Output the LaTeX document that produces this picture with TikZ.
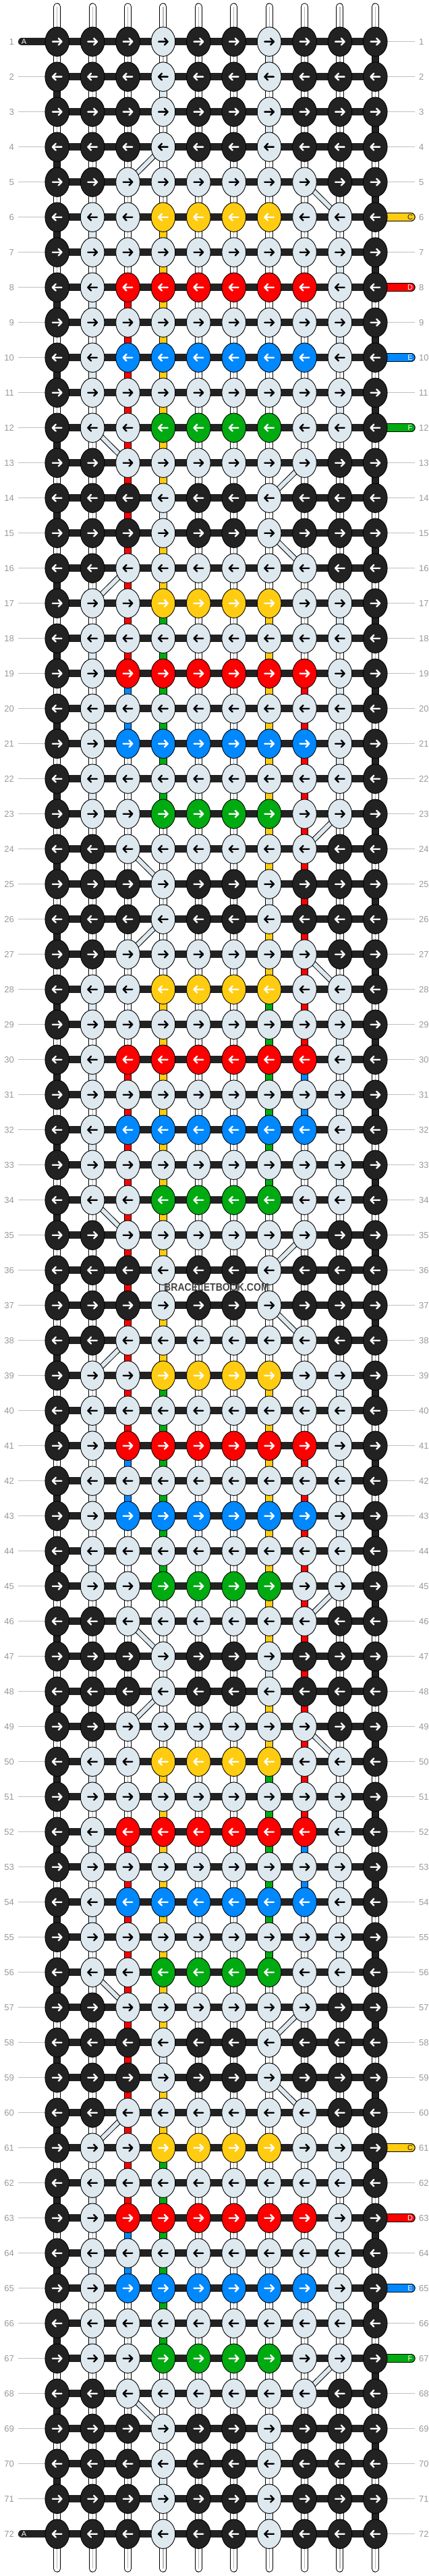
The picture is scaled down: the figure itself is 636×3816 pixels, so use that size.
\documentclass[tikz,border=0pt]{standalone}
\usepackage{fontspec}
\setmainfont{Liberation Sans}
\usetikzlibrary{shapes.geometric}
\definecolor{cK}{HTML}{222222}
\definecolor{cL}{HTML}{DEE8EF}
\definecolor{cY}{HTML}{FFCC11}
\definecolor{cR}{HTML}{FF0000}
\definecolor{cB}{HTML}{0088FF}
\definecolor{cG}{HTML}{00AA11}
\definecolor{lbl}{HTML}{999999}
\definecolor{lline}{HTML}{C0C0C0}
\definecolor{wmk}{HTML}{444444}
\def\rowT{K,K,K,L,K,K,L,K,K,K}
\def\rowN{K,K,L,L,L,L,L,L,K,K}
\def\rowY{K,L,L,Y,Y,Y,Y,L,L,K}
\def\rowI{K,L,L,L,L,L,L,L,L,K}
\def\rowR{K,L,R,R,R,R,R,R,L,K}
\def\rowB{K,L,B,B,B,B,B,B,L,K}
\def\rowG{K,L,L,G,G,G,G,L,L,K}
\def\rowseq{T,T,T,T,N,Y,I,R,I,B,I,G,N,T,T,N,Y,I,R,I,B,I,G,N,T,T,N,Y,I,R,I,B,I,G,N,T,T,N,Y,I,R,I,B,I,G,N,T,T,N,Y,I,R,I,B,I,G,N,T,T,N,Y,I,R,I,B,I,G,N,T,T,T,T}
\newcommand\kseg[3]{%
  \pgfmathtruncatemacro\gn{#1+1}%
  \draw[line width=11.5, black] (p-#1-#2) -- (p-\gn-#2);%
  \draw[line width=9.5, #3] (p-#1-#2) -- (p-\gn-#2);%
}
\newcommand\wseg[2]{%
  \pgfmathtruncatemacro\gn{#1+1}%
  \draw[line width=11.5, black] (p-#1-#2) -- (p-\gn-#2);%
  \draw[line width=9.5, white] (p-#1-#2) -- (p-\gn-#2);%
  \draw[line width=1.2, black!28] (p-#1-#2) -- (p-\gn-#2);%
}
\tikzset{
  knot/.style={ellipse, draw=black, line width=0.9, minimum width=35.6, minimum height=43.4, inner sep=0},
  lab/.style={text=lbl, font=\fontsize{13}{13}\selectfont, inner sep=0},
  tailtxt/.style={font=\fontsize{11}{11}\selectfont, inner sep=0},
  arR/.pic={\draw[color=#1, line width=2.4, line cap=round, line join=round] (-6.8,0) -- (6.8,0) (2,-4.9) -- (6.8,0) -- (2,4.9);},
  arL/.pic={\draw[color=#1, line width=2.4, line cap=round, line join=round] (6.8,0) -- (-6.8,0) (-2,-4.9) -- (-6.8,0) -- (-2,4.9);},
}
\begin{document}
\begin{tikzpicture}[x=1pt,y=-1pt]
\useasboundingbox (0,0) rectangle (636,3816);
\fill[white] (0,0) rectangle (636,3816);
% grid coordinates
\foreach \rr in {1,...,72}{
  \foreach \kc in {1,...,10}{
    \coordinate (p-\rr-\kc) at ({84.7+(\kc-1)*52.4},{61.7+(\rr-1)*52});
  }
  \coordinate (ll-\rr) at (26.5,{61.7+(\rr-1)*52});
  \coordinate (rl-\rr) at (615,{61.7+(\rr-1)*52});
  \coordinate (ta-\rr) at (32.5,{61.7+(\rr-1)*52});
  \coordinate (tr-\rr) at (609.5,{61.7+(\rr-1)*52});
}
% label lines
\foreach \rr in {1,...,72}{
  \draw[lline, line width=1] (ll-\rr) -- (p-\rr-1);
  \draw[lline, line width=1] (p-\rr-10) -- (rl-\rr);
}
% left tails A
\foreach \rr in {1,72}{
  \draw[line width=11.5, cK, line cap=round] (ta-\rr) -- (p-\rr-1);
}
% right tails
\foreach \rr/\tc in {6/cY,8/cR,10/cB,12/cG,61/cY,63/cR,65/cB,67/cG}{
  \draw[line width=12.5, black, line cap=round] (p-\rr-10) -- (tr-\rr);
  \draw[line width=10.5, \tc, line cap=round] (p-\rr-10) -- (tr-\rr);
}
% top and bottom strands
\foreach \kc in {1,...,10}{
  \coordinate (t-\kc) at ({84.7+(\kc-1)*52.4},10);
  \coordinate (b-\kc) at ({84.7+(\kc-1)*52.4},3805);
  \draw[line width=11, black, line cap=round] (t-\kc) -- (p-1-\kc);
  \draw[line width=9, white, line cap=round] (t-\kc) -- (p-1-\kc);
  \draw[line width=1.2, black!28] (t-\kc) -- (p-1-\kc);
  \draw[line width=11, black, line cap=round] (b-\kc) -- (p-72-\kc);
  \draw[line width=9, white, line cap=round] (b-\kc) -- (p-72-\kc);
  \draw[line width=1.2, black!28] (b-\kc) -- (p-72-\kc);
}
% horizontal bars
\foreach \rr in {1,...,72}{
  \draw[cK, line width=11.5] (p-\rr-1) -- (p-\rr-10);
}
% vertical segments, default
\foreach \g in {1,...,71}{
  \foreach \kc in {1,...,10}{\wseg{\g}{\kc}}
  \ifodd\g\relax \kseg{\g}{10}{cK}\else \kseg{\g}{1}{cK}\fi
}
% light turns
\foreach \g/\kc in {1/7,2/4,3/7,14/4,25/7,36/4,47/7,58/4,69/7,70/4,71/7,
  6/2,7/9,8/2,9/9,10/2,11/9,17/9,18/2,19/9,20/2,21/9,22/2,
  28/2,29/9,30/2,31/9,32/2,33/9,39/9,40/2,41/9,42/2,43/9,44/2,
  50/2,51/9,52/2,53/9,54/2,55/9,61/9,62/2,63/9,64/2,65/9,66/2}{\kseg{\g}{\kc}{cL}}
% coloured strands
\foreach \a/\b in {6/13,15/16,28/35,37/38,50/57,59/60}{\foreach \g in {\a,...,\b}{\kseg{\g}{4}{cY}}}
\foreach \a/\b in {17/24,26/27,39/46,48/49}{\foreach \g in {\a,...,\b}{\kseg{\g}{7}{cY}}}
\foreach \a/\b in {8/18,30/40,52/62}{\foreach \g in {\a,...,\b}{\kseg{\g}{3}{cR}}}
\foreach \a/\b in {19/29,41/51}{\foreach \g in {\a,...,\b}{\kseg{\g}{8}{cR}}}
\foreach \a/\b in {19/20,41/42,63/64}{\foreach \g in {\a,...,\b}{\kseg{\g}{3}{cB}}}
\foreach \a/\b in {30/31,52/53}{\foreach \g in {\a,...,\b}{\kseg{\g}{8}{cB}}}
\foreach \a/\b in {17/22,39/44,61/66}{\foreach \g in {\a,...,\b}{\kseg{\g}{4}{cG}}}
\foreach \a/\b in {28/33,50/55}{\foreach \g in {\a,...,\b}{\kseg{\g}{7}{cG}}}
% diagonals
\foreach \ra/\ca/\rb/\cb in {4/4/5/3,5/8/6/9,12/2/13/3,13/8/14/7,15/7/16/8,16/3/17/2,
  23/9/24/8,24/3/25/4,26/4/27/3,27/8/28/9,34/2/35/3,35/8/36/7,37/7/38/8,38/3/39/2,
  45/9/46/8,46/3/47/4,48/4/49/3,49/8/50/9,56/2/57/3,57/8/58/7,59/7/60/8,60/3/61/2,
  67/9/68/8,68/3/69/4}{
  \draw[line width=8, black] (p-\ra-\ca) -- (p-\rb-\cb);
  \draw[line width=6, cL] (p-\ra-\ca) -- (p-\rb-\cb);
}
% knots
\foreach \rt [count=\rr] in \rowseq {
  \expandafter\let\expandafter\cur\csname row\rt\endcsname
  \foreach \col [count=\ci] in \cur {
    \def\ac{white}\if L\col\def\ac{black}\fi
    \node[knot, fill=c\col] (k-\rr-\ci) at (p-\rr-\ci) {};
    \ifodd\rr\relax \pic at (k-\rr-\ci) {arR=\ac};\else \pic at (k-\rr-\ci) {arL=\ac};\fi
  }
}
% row labels
\foreach \rr in {1,...,72}{
  \node[lab, anchor=east] (nl-\rr) at (21,{61.7+(\rr-1)*52}) {\rr};
  \node[lab, anchor=west] (nr-\rr) at (621,{61.7+(\rr-1)*52}) {\rr};
}
% tail letters
\node[tailtxt, text=white] (la1) at (35.5,61.7) {A};
\node[tailtxt, text=white] (la72) at (35.5,3753.7) {A};
\foreach \rr/\lt/\lc in {6/C/cK,8/D/white,10/E/white,12/F/white,61/C/cK,63/D/white,65/E/white,67/F/white}{
  \node[tailtxt, text=\lc] (lt-\rr) at (608,{61.7+(\rr-1)*52}) {\lt};
}
% watermark
\node[text=wmk, font=\bfseries\fontsize{16}{16}\selectfont, xscale=0.88, inner sep=0] (wm) at (321,1907) {BRACELETBOOK.COM};
\end{tikzpicture}
\end{document}
